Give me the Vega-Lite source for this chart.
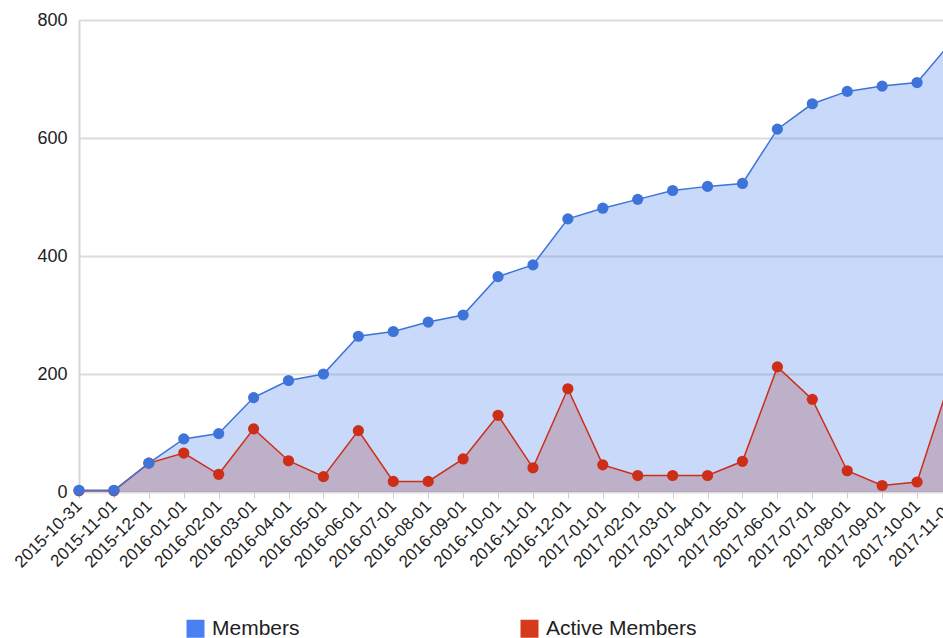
{
  "$schema": "https://vega.github.io/schema/vega-lite/v6.json",
  "width": 864,
  "height": 472,
  "autosize": {"type": "none"},
  "padding": {"left": 79, "top": 20, "right": 0, "bottom": 146},
  "background": "white",
  "config": {"view": {"stroke": null}, "font": "Liberation Sans"},
  "data": {
    "values": [
      {"date": "2015-10-31", "series": "Members", "value": 3},
      {"date": "2015-11-01", "series": "Members", "value": 3},
      {"date": "2015-12-01", "series": "Members", "value": 49},
      {"date": "2016-01-01", "series": "Members", "value": 90},
      {"date": "2016-02-01", "series": "Members", "value": 99},
      {"date": "2016-03-01", "series": "Members", "value": 160},
      {"date": "2016-04-01", "series": "Members", "value": 189},
      {"date": "2016-05-01", "series": "Members", "value": 200},
      {"date": "2016-06-01", "series": "Members", "value": 264},
      {"date": "2016-07-01", "series": "Members", "value": 272},
      {"date": "2016-08-01", "series": "Members", "value": 288},
      {"date": "2016-09-01", "series": "Members", "value": 300},
      {"date": "2016-10-01", "series": "Members", "value": 365},
      {"date": "2016-11-01", "series": "Members", "value": 385},
      {"date": "2016-12-01", "series": "Members", "value": 463},
      {"date": "2017-01-01", "series": "Members", "value": 481},
      {"date": "2017-02-01", "series": "Members", "value": 496},
      {"date": "2017-03-01", "series": "Members", "value": 511},
      {"date": "2017-04-01", "series": "Members", "value": 518},
      {"date": "2017-05-01", "series": "Members", "value": 523},
      {"date": "2017-06-01", "series": "Members", "value": 615},
      {"date": "2017-07-01", "series": "Members", "value": 658},
      {"date": "2017-08-01", "series": "Members", "value": 679},
      {"date": "2017-09-01", "series": "Members", "value": 688},
      {"date": "2017-10-01", "series": "Members", "value": 694},
      {"date": "2017-11-01", "series": "Members", "value": 764},
      {"date": "2015-10-31", "series": "Active Members", "value": 2},
      {"date": "2015-11-01", "series": "Active Members", "value": 2},
      {"date": "2015-12-01", "series": "Active Members", "value": 49},
      {"date": "2016-01-01", "series": "Active Members", "value": 66},
      {"date": "2016-02-01", "series": "Active Members", "value": 30},
      {"date": "2016-03-01", "series": "Active Members", "value": 107},
      {"date": "2016-04-01", "series": "Active Members", "value": 53},
      {"date": "2016-05-01", "series": "Active Members", "value": 26},
      {"date": "2016-06-01", "series": "Active Members", "value": 104},
      {"date": "2016-07-01", "series": "Active Members", "value": 18},
      {"date": "2016-08-01", "series": "Active Members", "value": 18},
      {"date": "2016-09-01", "series": "Active Members", "value": 56},
      {"date": "2016-10-01", "series": "Active Members", "value": 130},
      {"date": "2016-11-01", "series": "Active Members", "value": 41},
      {"date": "2016-12-01", "series": "Active Members", "value": 175},
      {"date": "2017-01-01", "series": "Active Members", "value": 46},
      {"date": "2017-02-01", "series": "Active Members", "value": 28},
      {"date": "2017-03-01", "series": "Active Members", "value": 28},
      {"date": "2017-04-01", "series": "Active Members", "value": 28},
      {"date": "2017-05-01", "series": "Active Members", "value": 52},
      {"date": "2017-06-01", "series": "Active Members", "value": 212},
      {"date": "2017-07-01", "series": "Active Members", "value": 157},
      {"date": "2017-08-01", "series": "Active Members", "value": 36},
      {"date": "2017-09-01", "series": "Active Members", "value": 11},
      {"date": "2017-10-01", "series": "Active Members", "value": 17},
      {"date": "2017-11-01", "series": "Active Members", "value": 200}
    ]
  },
  "encoding": {
    "x": {
      "field": "date",
      "type": "ordinal",
      "scale": {
        "type": "point",
        "padding": 0,
        "range": [0, 873],
        "domain": ["2015-10-31","2015-11-01","2015-12-01","2016-01-01","2016-02-01","2016-03-01","2016-04-01","2016-05-01","2016-06-01","2016-07-01","2016-08-01","2016-09-01","2016-10-01","2016-11-01","2016-12-01","2017-01-01","2017-02-01","2017-03-01","2017-04-01","2017-05-01","2017-06-01","2017-07-01","2017-08-01","2017-09-01","2017-10-01","2017-11-01"]
      },
      "axis": {
        "title": null,
        "labelAngle": -45,
        "labelAlign": "right",
        "labelBaseline": "middle",
        "labelFontSize": 17,
        "labelColor": "#222222",
        "tickSize": 6,
        "tickColor": "#cccccc",
        "domain": false,
        "labelPadding": 5,
        "grid": false,
        "labelOverlap": false,
        "labelBound": false
      }
    },
    "y": {
      "field": "value",
      "type": "quantitative",
      "scale": {"domain": [0, 800]},
      "axis": {
        "title": null,
        "values": [0, 200, 400, 600, 800],
        "labelFontSize": 18,
        "labelColor": "#222222",
        "ticks": false,
        "labelPadding": 12,
        "domainColor": "#d5d5d5",
        "domainWidth": 2,
        "gridColor": "#dcdcdc",
        "gridWidth": 2
      }
    }
  },
  "layer": [
    {
      "transform": [{"filter": "datum.series === 'Active Members'"}],
      "mark": {"type": "area", "fillOpacity": 0.3},
      "encoding": {
        "fill": {
          "field": "series",
          "type": "nominal",
          "scale": {"domain": ["Members", "Active Members"], "range": ["#4a80f0", "#d63a1c"]},
          "legend": {
            "orient": "none", "legendX": 106, "legendY": 598,
            "direction": "horizontal", "columns": 2, "title": null,
            "symbolType": "square", "symbolSize": 324, "symbolOpacity": 1, "symbolStrokeWidth": 0,
            "labelFontSize": 21, "labelColor": "#222222", "labelOffset": 6, "labelLimit": 300,
            "columnPadding": 219, "padding": 0, "gridAlign": "each"
          }
        }
      }
    },
    {
      "transform": [{"filter": "datum.series === 'Members'"}],
      "mark": {"type": "area", "fillOpacity": 0.3},
      "encoding": {
        "fill": {
          "field": "series",
          "type": "nominal",
          "scale": {"domain": ["Members", "Active Members"], "range": ["#4a80f0", "#d63a1c"]},
          "legend": {
            "orient": "none", "legendX": 106, "legendY": 598,
            "direction": "horizontal", "columns": 2, "title": null,
            "symbolType": "square", "symbolSize": 324, "symbolOpacity": 1, "symbolStrokeWidth": 0,
            "labelFontSize": 21, "labelColor": "#222222", "labelOffset": 6, "labelLimit": 300,
            "columnPadding": 219, "padding": 0, "gridAlign": "each"
          }
        }
      }
    },
    {
      "transform": [{"filter": "datum.series === 'Active Members'"}],
      "mark": {"type": "line", "color": "#cc2e17", "strokeWidth": 1.5},
      "encoding": {}
    },
    {
      "transform": [{"filter": "datum.series === 'Members'"}],
      "mark": {"type": "line", "color": "#3e73da", "strokeWidth": 1.5},
      "encoding": {}
    },
    {
      "transform": [{"filter": "datum.series === 'Active Members'"}],
      "mark": {"type": "point", "filled": true, "size": 125, "opacity": 1, "color": "#cc2e17"},
      "encoding": {}
    },
    {
      "transform": [{"filter": "datum.series === 'Members'"}],
      "mark": {"type": "point", "filled": true, "size": 125, "opacity": 1, "color": "#3e73da"},
      "encoding": {}
    }
  ]
}
